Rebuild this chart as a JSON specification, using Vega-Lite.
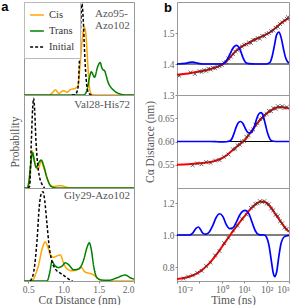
{
"$schema": "https://vega.github.io/schema/vega-lite/v6.json",
"padding": 0,
"autosize": {"type": "pad"},
"datasets": {
"left": [
{"panel":"A","series":"Cis","d":0.44,"p":0},{"panel":"A","series":"Cis","d":0.79,"p":0},{"panel":"A","series":"Cis","d":0.837,"p":0.02},{"panel":"A","series":"Cis","d":0.884,"p":0.054},{"panel":"A","series":"Cis","d":0.932,"p":0.018},{"panel":"A","series":"Cis","d":1.003,"p":0.047},{"panel":"A","series":"Cis","d":1.05,"p":0.03},{"panel":"A","series":"Cis","d":1.097,"p":0.058},{"panel":"A","series":"Cis","d":1.168,"p":0.072},{"panel":"A","series":"Cis","d":1.206,"p":0.1},{"panel":"A","series":"Cis","d":1.238,"p":0.35},{"panel":"A","series":"Cis","d":1.262,"p":0.57},{"panel":"A","series":"Cis","d":1.295,"p":0.73},{"panel":"A","series":"Cis","d":1.319,"p":0.64},{"panel":"A","series":"Cis","d":1.343,"p":0.35},{"panel":"A","series":"Cis","d":1.366,"p":0.1},{"panel":"A","series":"Cis","d":1.394,"p":0.01},{"panel":"A","series":"Cis","d":1.45,"p":0},{"panel":"A","series":"Cis","d":2.0,"p":0},
{"panel":"A","series":"Trans","d":0.44,"p":0},{"panel":"A","series":"Trans","d":1.286,"p":0},{"panel":"A","series":"Trans","d":1.333,"p":0.05},{"panel":"A","series":"Trans","d":1.366,"p":0.18},{"panel":"A","series":"Trans","d":1.394,"p":0.25},{"panel":"A","series":"Trans","d":1.418,"p":0.22},{"panel":"A","series":"Trans","d":1.44,"p":0.19},{"panel":"A","series":"Trans","d":1.483,"p":0.3},{"panel":"A","series":"Trans","d":1.52,"p":0.35},{"panel":"A","series":"Trans","d":1.545,"p":0.29},{"panel":"A","series":"Trans","d":1.565,"p":0.27},{"panel":"A","series":"Trans","d":1.583,"p":0.26},{"panel":"A","series":"Trans","d":1.631,"p":0.14},{"panel":"A","series":"Trans","d":1.712,"p":0.05},{"panel":"A","series":"Trans","d":1.806,"p":0.01},{"panel":"A","series":"Trans","d":1.877,"p":0},{"panel":"A","series":"Trans","d":2.0,"p":0},
{"panel":"A","series":"Initial","d":1.12,"p":0},{"panel":"A","series":"Initial","d":1.168,"p":0.005},{"panel":"A","series":"Initial","d":1.206,"p":0.08},{"panel":"A","series":"Initial","d":1.225,"p":0.35},{"panel":"A","series":"Initial","d":1.244,"p":0.75},{"panel":"A","series":"Initial","d":1.262,"p":0.98},{"panel":"A","series":"Initial","d":1.281,"p":0.8},{"panel":"A","series":"Initial","d":1.3,"p":0.45},{"panel":"A","series":"Initial","d":1.328,"p":0.12},{"panel":"A","series":"Initial","d":1.357,"p":0.02},{"panel":"A","series":"Initial","d":1.4,"p":0},
{"panel":"V","series":"Cis","d":0.44,"p":0},{"panel":"V","series":"Cis","d":0.497,"p":0},{"panel":"V","series":"Cis","d":0.53,"p":0.18},{"panel":"V","series":"Cis","d":0.553,"p":0.4},{"panel":"V","series":"Cis","d":0.578,"p":0.33},{"panel":"V","series":"Cis","d":0.61,"p":0.23},{"panel":"V","series":"Cis","d":0.639,"p":0.2},{"panel":"V","series":"Cis","d":0.663,"p":0.25},{"panel":"V","series":"Cis","d":0.685,"p":0.29},{"panel":"V","series":"Cis","d":0.719,"p":0.22},{"panel":"V","series":"Cis","d":0.766,"p":0.11},{"panel":"V","series":"Cis","d":0.813,"p":0.035},{"panel":"V","series":"Cis","d":0.861,"p":0.015},{"panel":"V","series":"Cis","d":0.9,"p":0.02},{"panel":"V","series":"Cis","d":0.94,"p":0.025},{"panel":"V","series":"Cis","d":0.979,"p":0.024},{"panel":"V","series":"Cis","d":1.05,"p":0.007},{"panel":"V","series":"Cis","d":1.12,"p":0},{"panel":"V","series":"Cis","d":2.0,"p":0},
{"panel":"V","series":"Trans","d":0.44,"p":0},{"panel":"V","series":"Trans","d":0.483,"p":0},{"panel":"V","series":"Trans","d":0.507,"p":0.06},{"panel":"V","series":"Trans","d":0.535,"p":0.255},{"panel":"V","series":"Trans","d":0.563,"p":0.38},{"panel":"V","series":"Trans","d":0.586,"p":0.29},{"panel":"V","series":"Trans","d":0.614,"p":0.22},{"panel":"V","series":"Trans","d":0.648,"p":0.27},{"panel":"V","series":"Trans","d":0.685,"p":0.3},{"panel":"V","series":"Trans","d":0.719,"p":0.24},{"panel":"V","series":"Trans","d":0.766,"p":0.11},{"panel":"V","series":"Trans","d":0.813,"p":0.025},{"panel":"V","series":"Trans","d":0.861,"p":0.005},{"panel":"V","series":"Trans","d":0.9,"p":0},{"panel":"V","series":"Trans","d":2.0,"p":0},
{"panel":"V","series":"Initial","d":0.5,"p":0},{"panel":"V","series":"Initial","d":0.52,"p":0.02},{"panel":"V","series":"Initial","d":0.544,"p":0.5},{"panel":"V","series":"Initial","d":0.563,"p":0.86},{"panel":"V","series":"Initial","d":0.577,"p":0.965},{"panel":"V","series":"Initial","d":0.592,"p":0.82},{"panel":"V","series":"Initial","d":0.61,"p":0.5},{"panel":"V","series":"Initial","d":0.634,"p":0.255},{"panel":"V","series":"Initial","d":0.657,"p":0.13},{"panel":"V","series":"Initial","d":0.695,"p":0.04},{"panel":"V","series":"Initial","d":0.733,"p":0},
{"panel":"G","series":"Cis","d":0.44,"p":0},{"panel":"G","series":"Cis","d":0.553,"p":0},{"panel":"G","series":"Cis","d":0.6,"p":0.065},{"panel":"G","series":"Cis","d":0.648,"p":0.175},{"panel":"G","series":"Cis","d":0.695,"p":0.34},{"panel":"G","series":"Cis","d":0.742,"p":0.42},{"panel":"G","series":"Cis","d":0.78,"p":0.36},{"panel":"G","series":"Cis","d":0.813,"p":0.285},{"panel":"G","series":"Cis","d":0.861,"p":0.255},{"panel":"G","series":"Cis","d":0.908,"p":0.27},{"panel":"G","series":"Cis","d":0.955,"p":0.28},{"panel":"G","series":"Cis","d":1.003,"p":0.19},{"panel":"G","series":"Cis","d":1.05,"p":0.13},{"panel":"G","series":"Cis","d":1.12,"p":0.11},{"panel":"G","series":"Cis","d":1.19,"p":0.12},{"panel":"G","series":"Cis","d":1.253,"p":0.145},{"panel":"G","series":"Cis","d":1.3,"p":0.1},{"panel":"G","series":"Cis","d":1.357,"p":0.085},{"panel":"G","series":"Cis","d":1.428,"p":0.065},{"panel":"G","series":"Cis","d":1.499,"p":0.02},{"panel":"G","series":"Cis","d":1.57,"p":0},{"panel":"G","series":"Cis","d":2.0,"p":0},
{"panel":"G","series":"Trans","d":0.44,"p":0},{"panel":"G","series":"Trans","d":0.766,"p":0},{"panel":"G","series":"Trans","d":0.804,"p":0.085},{"panel":"G","series":"Trans","d":0.837,"p":0.21},{"panel":"G","series":"Trans","d":0.875,"p":0.17},{"panel":"G","series":"Trans","d":0.922,"p":0.145},{"panel":"G","series":"Trans","d":0.979,"p":0.16},{"panel":"G","series":"Trans","d":1.026,"p":0.195},{"panel":"G","series":"Trans","d":1.074,"p":0.175},{"panel":"G","series":"Trans","d":1.145,"p":0.12},{"panel":"G","series":"Trans","d":1.216,"p":0.13},{"panel":"G","series":"Trans","d":1.287,"p":0.23},{"panel":"G","series":"Trans","d":1.333,"p":0.36},{"panel":"G","series":"Trans","d":1.366,"p":0.41},{"panel":"G","series":"Trans","d":1.394,"p":0.34},{"panel":"G","series":"Trans","d":1.428,"p":0.16},{"panel":"G","series":"Trans","d":1.475,"p":0.035},{"panel":"G","series":"Trans","d":1.546,"p":0.01},{"panel":"G","series":"Trans","d":1.641,"p":0.007},{"panel":"G","series":"Trans","d":1.759,"p":0.035},{"panel":"G","series":"Trans","d":1.877,"p":0.065},{"panel":"G","series":"Trans","d":1.947,"p":0.035},{"panel":"G","series":"Trans","d":2.0,"p":0.02},
{"panel":"G","series":"Initial","d":0.53,"p":0},{"panel":"G","series":"Initial","d":0.578,"p":0.1},{"panel":"G","series":"Initial","d":0.624,"p":0.43},{"panel":"G","series":"Initial","d":0.657,"p":0.8},{"panel":"G","series":"Initial","d":0.685,"p":0.94},{"panel":"G","series":"Initial","d":0.71,"p":0.96},{"panel":"G","series":"Initial","d":0.733,"p":0.87},{"panel":"G","series":"Initial","d":0.766,"p":0.61},{"panel":"G","series":"Initial","d":0.799,"p":0.36},{"panel":"G","series":"Initial","d":0.837,"p":0.21},{"panel":"G","series":"Initial","d":0.884,"p":0.13},{"panel":"G","series":"Initial","d":0.955,"p":0.085},{"panel":"G","series":"Initial","d":1.026,"p":0.047},{"panel":"G","series":"Initial","d":1.097,"p":0.01},{"panel":"G","series":"Initial","d":1.13,"p":0}
],
"right": [
{"panel":"R1","kind":"base","v":1.4},
{"panel":"R1","kind":"fit","t":0.01,"v":1.365},{"panel":"R1","kind":"fit","t":0.03162,"v":1.369},{"panel":"R1","kind":"fit","t":0.1,"v":1.376},{"panel":"R1","kind":"fit","t":0.3162,"v":1.384},{"panel":"R1","kind":"fit","t":0.631,"v":1.391},{"panel":"R1","kind":"fit","t":1,"v":1.397},{"panel":"R1","kind":"fit","t":1.259,"v":1.402},{"panel":"R1","kind":"fit","t":1.585,"v":1.408},{"panel":"R1","kind":"fit","t":1.995,"v":1.416},{"panel":"R1","kind":"fit","t":2.512,"v":1.424},{"panel":"R1","kind":"fit","t":3.162,"v":1.432},{"panel":"R1","kind":"fit","t":3.981,"v":1.44},{"panel":"R1","kind":"fit","t":5.012,"v":1.446},{"panel":"R1","kind":"fit","t":6.31,"v":1.452},{"panel":"R1","kind":"fit","t":7.943,"v":1.457},{"panel":"R1","kind":"fit","t":10,"v":1.461},{"panel":"R1","kind":"fit","t":15.85,"v":1.468},{"panel":"R1","kind":"fit","t":25.12,"v":1.476},{"panel":"R1","kind":"fit","t":39.81,"v":1.483},{"panel":"R1","kind":"fit","t":63.1,"v":1.489},{"panel":"R1","kind":"fit","t":100,"v":1.496},{"panel":"R1","kind":"fit","t":158.5,"v":1.505},{"panel":"R1","kind":"fit","t":251.2,"v":1.516},{"panel":"R1","kind":"fit","t":398.1,"v":1.529},{"panel":"R1","kind":"fit","t":631,"v":1.54},{"panel":"R1","kind":"fit","t":1000,"v":1.548},
{"panel":"R1","kind":"peak","t":0.01,"v":1.4},{"panel":"R1","kind":"peak","t":0.02512,"v":1.402},{"panel":"R1","kind":"peak","t":0.03548,"v":1.405},{"panel":"R1","kind":"peak","t":0.05012,"v":1.406},{"panel":"R1","kind":"peak","t":0.07079,"v":1.404},{"panel":"R1","kind":"peak","t":0.1,"v":1.401},{"panel":"R1","kind":"peak","t":0.1585,"v":1.4},{"panel":"R1","kind":"peak","t":1,"v":1.4},{"panel":"R1","kind":"peak","t":1.413,"v":1.406},{"panel":"R1","kind":"peak","t":1.995,"v":1.422},{"panel":"R1","kind":"peak","t":2.818,"v":1.445},{"panel":"R1","kind":"peak","t":3.548,"v":1.456},{"panel":"R1","kind":"peak","t":4.467,"v":1.46},{"panel":"R1","kind":"peak","t":5.623,"v":1.455},{"panel":"R1","kind":"peak","t":7.079,"v":1.44},{"panel":"R1","kind":"peak","t":8.913,"v":1.42},{"panel":"R1","kind":"peak","t":11.22,"v":1.406},{"panel":"R1","kind":"peak","t":15.85,"v":1.401},{"panel":"R1","kind":"peak","t":31.62,"v":1.4},{"panel":"R1","kind":"peak","t":100,"v":1.4},{"panel":"R1","kind":"peak","t":141.3,"v":1.405},{"panel":"R1","kind":"peak","t":177.8,"v":1.425},{"panel":"R1","kind":"peak","t":223.9,"v":1.46},{"panel":"R1","kind":"peak","t":281.8,"v":1.495},{"panel":"R1","kind":"peak","t":354.8,"v":1.503},{"panel":"R1","kind":"peak","t":446.7,"v":1.485},{"panel":"R1","kind":"peak","t":562.3,"v":1.45},{"panel":"R1","kind":"peak","t":707.9,"v":1.42},{"panel":"R1","kind":"peak","t":891.3,"v":1.406},{"panel":"R1","kind":"peak","t":1000,"v":1.404},
{"panel":"R1","kind":"raw","t":0.01259,"v":1.362},{"panel":"R1","kind":"raw","t":0.03981,"v":1.373},{"panel":"R1","kind":"raw","t":0.0631,"v":1.368},{"panel":"R1","kind":"raw","t":0.1,"v":1.377},{"panel":"R1","kind":"raw","t":0.1259,"v":1.374},{"panel":"R1","kind":"raw","t":0.1585,"v":1.38},{"panel":"R1","kind":"raw","t":0.1995,"v":1.378},{"panel":"R1","kind":"raw","t":0.2512,"v":1.385},{"panel":"R1","kind":"raw","t":0.3162,"v":1.382},{"panel":"R1","kind":"raw","t":0.3981,"v":1.388},{"panel":"R1","kind":"raw","t":0.5012,"v":1.386},{"panel":"R1","kind":"raw","t":0.631,"v":1.391},{"panel":"R1","kind":"raw","t":0.7943,"v":1.393},{"panel":"R1","kind":"raw","t":1,"v":1.397},{"panel":"R1","kind":"raw","t":1.259,"v":1.404},{"panel":"R1","kind":"raw","t":1.585,"v":1.406},{"panel":"R1","kind":"raw","t":1.995,"v":1.418},{"panel":"R1","kind":"raw","t":2.512,"v":1.424},{"panel":"R1","kind":"raw","t":3.162,"v":1.432},{"panel":"R1","kind":"raw","t":3.981,"v":1.44},{"panel":"R1","kind":"raw","t":5.012,"v":1.445},{"panel":"R1","kind":"raw","t":6.31,"v":1.452},{"panel":"R1","kind":"raw","t":7.943,"v":1.456},{"panel":"R1","kind":"raw","t":10,"v":1.462},{"panel":"R1","kind":"raw","t":12.59,"v":1.463},{"panel":"R1","kind":"raw","t":15.85,"v":1.47},{"panel":"R1","kind":"raw","t":19.95,"v":1.468},{"panel":"R1","kind":"raw","t":25.12,"v":1.478},{"panel":"R1","kind":"raw","t":31.62,"v":1.477},{"panel":"R1","kind":"raw","t":39.81,"v":1.484},{"panel":"R1","kind":"raw","t":50.12,"v":1.482},{"panel":"R1","kind":"raw","t":63.1,"v":1.491},{"panel":"R1","kind":"raw","t":79.43,"v":1.489},{"panel":"R1","kind":"raw","t":100,"v":1.497},{"panel":"R1","kind":"raw","t":125.9,"v":1.5},{"panel":"R1","kind":"raw","t":158.5,"v":1.506},{"panel":"R1","kind":"raw","t":199.5,"v":1.508},{"panel":"R1","kind":"raw","t":251.2,"v":1.517},{"panel":"R1","kind":"raw","t":316.2,"v":1.52},{"panel":"R1","kind":"raw","t":398.1,"v":1.529},{"panel":"R1","kind":"raw","t":501.2,"v":1.534},{"panel":"R1","kind":"raw","t":631,"v":1.541},{"panel":"R1","kind":"raw","t":794.3,"v":1.546},{"panel":"R1","kind":"raw","t":891.3,"v":1.551},
{"panel":"R2","kind":"base","v":0.6},
{"panel":"R2","kind":"fit","t":0.01,"v":0.55},{"panel":"R2","kind":"fit","t":0.03162,"v":0.551},{"panel":"R2","kind":"fit","t":0.1,"v":0.553},{"panel":"R2","kind":"fit","t":0.3162,"v":0.556},{"panel":"R2","kind":"fit","t":0.631,"v":0.56},{"panel":"R2","kind":"fit","t":1,"v":0.564},{"panel":"R2","kind":"fit","t":1.585,"v":0.57},{"panel":"R2","kind":"fit","t":2.512,"v":0.578},{"panel":"R2","kind":"fit","t":3.981,"v":0.586},{"panel":"R2","kind":"fit","t":6.31,"v":0.594},{"panel":"R2","kind":"fit","t":10,"v":0.602},{"panel":"R2","kind":"fit","t":15.85,"v":0.614},{"panel":"R2","kind":"fit","t":25.12,"v":0.627},{"panel":"R2","kind":"fit","t":39.81,"v":0.64},{"panel":"R2","kind":"fit","t":63.1,"v":0.651},{"panel":"R2","kind":"fit","t":100,"v":0.66},{"panel":"R2","kind":"fit","t":158.5,"v":0.667},{"panel":"R2","kind":"fit","t":251.2,"v":0.672},{"panel":"R2","kind":"fit","t":398.1,"v":0.674},{"panel":"R2","kind":"fit","t":631,"v":0.673},{"panel":"R2","kind":"fit","t":1000,"v":0.671},
{"panel":"R2","kind":"peak","t":0.01,"v":0.6},{"panel":"R2","kind":"peak","t":0.3162,"v":0.6},{"panel":"R2","kind":"peak","t":0.631,"v":0.5995},{"panel":"R2","kind":"peak","t":1,"v":0.599},{"panel":"R2","kind":"peak","t":1.585,"v":0.5995},{"panel":"R2","kind":"peak","t":2.239,"v":0.601},{"panel":"R2","kind":"peak","t":2.818,"v":0.606},{"panel":"R2","kind":"peak","t":3.548,"v":0.618},{"panel":"R2","kind":"peak","t":4.467,"v":0.632},{"panel":"R2","kind":"peak","t":5.623,"v":0.641},{"panel":"R2","kind":"peak","t":7.079,"v":0.643},{"panel":"R2","kind":"peak","t":8.913,"v":0.638},{"panel":"R2","kind":"peak","t":11.22,"v":0.628},{"panel":"R2","kind":"peak","t":14.13,"v":0.62},{"panel":"R2","kind":"peak","t":17.78,"v":0.618},{"panel":"R2","kind":"peak","t":22.39,"v":0.621},{"panel":"R2","kind":"peak","t":28.18,"v":0.632},{"panel":"R2","kind":"peak","t":35.48,"v":0.648},{"panel":"R2","kind":"peak","t":44.67,"v":0.659},{"panel":"R2","kind":"peak","t":56.23,"v":0.662},{"panel":"R2","kind":"peak","t":70.79,"v":0.655},{"panel":"R2","kind":"peak","t":89.13,"v":0.636},{"panel":"R2","kind":"peak","t":112.2,"v":0.617},{"panel":"R2","kind":"peak","t":141.3,"v":0.605},{"panel":"R2","kind":"peak","t":177.8,"v":0.601},{"panel":"R2","kind":"peak","t":251.2,"v":0.6},{"panel":"R2","kind":"peak","t":1000,"v":0.6},
{"panel":"R2","kind":"raw","t":0.05012,"v":0.549},{"panel":"R2","kind":"raw","t":0.07943,"v":0.553},{"panel":"R2","kind":"raw","t":0.1259,"v":0.551},{"panel":"R2","kind":"raw","t":0.1995,"v":0.556},{"panel":"R2","kind":"raw","t":0.3162,"v":0.554},{"panel":"R2","kind":"raw","t":0.5012,"v":0.559},{"panel":"R2","kind":"raw","t":0.7943,"v":0.56},{"panel":"R2","kind":"raw","t":1.259,"v":0.567},{"panel":"R2","kind":"raw","t":1.995,"v":0.572},{"panel":"R2","kind":"raw","t":3.162,"v":0.583},{"panel":"R2","kind":"raw","t":3.981,"v":0.584},{"panel":"R2","kind":"raw","t":5.012,"v":0.592},{"panel":"R2","kind":"raw","t":6.31,"v":0.593},{"panel":"R2","kind":"raw","t":7.943,"v":0.6},{"panel":"R2","kind":"raw","t":10,"v":0.601},{"panel":"R2","kind":"raw","t":12.59,"v":0.61},{"panel":"R2","kind":"raw","t":15.85,"v":0.613},{"panel":"R2","kind":"raw","t":19.95,"v":0.622},{"panel":"R2","kind":"raw","t":25.12,"v":0.626},{"panel":"R2","kind":"raw","t":31.62,"v":0.636},{"panel":"R2","kind":"raw","t":39.81,"v":0.639},{"panel":"R2","kind":"raw","t":50.12,"v":0.648},{"panel":"R2","kind":"raw","t":63.1,"v":0.65},{"panel":"R2","kind":"raw","t":79.43,"v":0.657},{"panel":"R2","kind":"raw","t":100,"v":0.659},{"panel":"R2","kind":"raw","t":125.9,"v":0.666},{"panel":"R2","kind":"raw","t":158.5,"v":0.665},{"panel":"R2","kind":"raw","t":199.5,"v":0.672},{"panel":"R2","kind":"raw","t":251.2,"v":0.67},{"panel":"R2","kind":"raw","t":316.2,"v":0.676},{"panel":"R2","kind":"raw","t":398.1,"v":0.673},{"panel":"R2","kind":"raw","t":501.2,"v":0.676},{"panel":"R2","kind":"raw","t":631,"v":0.672},{"panel":"R2","kind":"raw","t":794.3,"v":0.674},
{"panel":"R3","kind":"base","v":1.0},
{"panel":"R3","kind":"fit","t":0.01,"v":0.725},{"panel":"R3","kind":"fit","t":0.01995,"v":0.731},{"panel":"R3","kind":"fit","t":0.03981,"v":0.742},{"panel":"R3","kind":"fit","t":0.07943,"v":0.76},{"panel":"R3","kind":"fit","t":0.1585,"v":0.79},{"panel":"R3","kind":"fit","t":0.3162,"v":0.832},{"panel":"R3","kind":"fit","t":0.631,"v":0.885},{"panel":"R3","kind":"fit","t":1.259,"v":0.945},{"panel":"R3","kind":"fit","t":2.512,"v":1.005},{"panel":"R3","kind":"fit","t":5.012,"v":1.062},{"panel":"R3","kind":"fit","t":10,"v":1.115},{"panel":"R3","kind":"fit","t":19.95,"v":1.165},{"panel":"R3","kind":"fit","t":35.48,"v":1.196},{"panel":"R3","kind":"fit","t":56.23,"v":1.21},{"panel":"R3","kind":"fit","t":89.13,"v":1.205},{"panel":"R3","kind":"fit","t":141.3,"v":1.18},{"panel":"R3","kind":"fit","t":251.2,"v":1.13},{"panel":"R3","kind":"fit","t":398.1,"v":1.09},{"panel":"R3","kind":"fit","t":631,"v":1.05},{"panel":"R3","kind":"fit","t":1000,"v":1.02},
{"panel":"R3","kind":"peak","t":0.01,"v":1.0},{"panel":"R3","kind":"peak","t":0.03548,"v":1.0},{"panel":"R3","kind":"peak","t":0.05012,"v":1.012},{"panel":"R3","kind":"peak","t":0.07079,"v":1.042},{"panel":"R3","kind":"peak","t":0.08913,"v":1.05},{"panel":"R3","kind":"peak","t":0.1122,"v":1.035},{"panel":"R3","kind":"peak","t":0.1413,"v":1.012},{"panel":"R3","kind":"peak","t":0.1995,"v":1.005},{"panel":"R3","kind":"peak","t":0.2818,"v":1.02},{"panel":"R3","kind":"peak","t":0.3981,"v":1.06},{"panel":"R3","kind":"peak","t":0.5623,"v":1.11},{"panel":"R3","kind":"peak","t":0.7943,"v":1.133},{"panel":"R3","kind":"peak","t":1.122,"v":1.115},{"panel":"R3","kind":"peak","t":1.585,"v":1.065},{"panel":"R3","kind":"peak","t":2.239,"v":1.04},{"panel":"R3","kind":"peak","t":3.162,"v":1.045},{"panel":"R3","kind":"peak","t":4.467,"v":1.08},{"panel":"R3","kind":"peak","t":6.31,"v":1.125},{"panel":"R3","kind":"peak","t":8.913,"v":1.15},{"panel":"R3","kind":"peak","t":11.22,"v":1.154},{"panel":"R3","kind":"peak","t":15.85,"v":1.135},{"panel":"R3","kind":"peak","t":22.39,"v":1.08},{"panel":"R3","kind":"peak","t":31.62,"v":1.025},{"panel":"R3","kind":"peak","t":44.67,"v":1.003},{"panel":"R3","kind":"peak","t":79.43,"v":1.0},{"panel":"R3","kind":"peak","t":100,"v":0.985},{"panel":"R3","kind":"peak","t":125.9,"v":0.94},{"panel":"R3","kind":"peak","t":158.5,"v":0.85},{"panel":"R3","kind":"peak","t":199.5,"v":0.76},{"panel":"R3","kind":"peak","t":229.1,"v":0.74},{"panel":"R3","kind":"peak","t":281.8,"v":0.77},{"panel":"R3","kind":"peak","t":354.8,"v":0.87},{"panel":"R3","kind":"peak","t":446.7,"v":0.95},{"panel":"R3","kind":"peak","t":631,"v":0.99},{"panel":"R3","kind":"peak","t":1000,"v":0.998},
{"panel":"R3","kind":"raw","t":0.01995,"v":0.728},{"panel":"R3","kind":"raw","t":0.03162,"v":0.74},{"panel":"R3","kind":"raw","t":0.05012,"v":0.748},{"panel":"R3","kind":"raw","t":0.07943,"v":0.764},{"panel":"R3","kind":"raw","t":0.1259,"v":0.776},{"panel":"R3","kind":"raw","t":0.1995,"v":0.806},{"panel":"R3","kind":"raw","t":0.3162,"v":0.828},{"panel":"R3","kind":"raw","t":0.5012,"v":0.872},{"panel":"R3","kind":"raw","t":0.7943,"v":0.9},{"panel":"R3","kind":"raw","t":1.259,"v":0.95},{"panel":"R3","kind":"raw","t":1.995,"v":0.982},{"panel":"R3","kind":"raw","t":3.162,"v":1.028},{"panel":"R3","kind":"raw","t":5.012,"v":1.058},{"panel":"R3","kind":"raw","t":7.943,"v":1.102},{"panel":"R3","kind":"raw","t":12.59,"v":1.128},{"panel":"R3","kind":"raw","t":19.95,"v":1.17},{"panel":"R3","kind":"raw","t":25.12,"v":1.178},{"panel":"R3","kind":"raw","t":31.62,"v":1.195},{"panel":"R3","kind":"raw","t":39.81,"v":1.198},{"panel":"R3","kind":"raw","t":50.12,"v":1.212},{"panel":"R3","kind":"raw","t":63.1,"v":1.206},{"panel":"R3","kind":"raw","t":79.43,"v":1.212},{"panel":"R3","kind":"raw","t":100,"v":1.196},{"panel":"R3","kind":"raw","t":125.9,"v":1.192},{"panel":"R3","kind":"raw","t":158.5,"v":1.166},{"panel":"R3","kind":"raw","t":199.5,"v":1.155},{"panel":"R3","kind":"raw","t":251.2,"v":1.126},{"panel":"R3","kind":"raw","t":316.2,"v":1.118},{"panel":"R3","kind":"raw","t":398.1,"v":1.086},{"panel":"R3","kind":"raw","t":501.2,"v":1.074},{"panel":"R3","kind":"raw","t":631,"v":1.046},{"panel":"R3","kind":"raw","t":794.3,"v":1.038}
],
"notes": [
{"panel":"A","label":"Azo95-\nAzo102","d":1.447,"p":0.84},
{"panel":"V","label":"Val28-His72","d":1.943,"p":0.865},
{"panel":"G","label":"Gly29-Azo102","d":1.943,"p":0.883},
{"panel":"a","label":"a","d":0.17,"p":0.904},
{"panel":"b","label":"b","t":0.00396,"v":1.568}
]
},
"concat": [
{
"width": 110, "height": 93,
"layer": [
{"data":{"name":"left"},"transform":[{"filter":"datum.panel=='A'"}],
"mark":{"type":"line","interpolate":"monotone","strokeWidth":1.5,"clip":true},
"encoding":{
"x":{"field":"d","type":"quantitative","scale":{"domain":[0.44,2.0],"nice":false,"zero":false},"axis":null},
"y":{"field":"p","type":"quantitative","scale":{"domain":[0,1],"nice":false},"axis":null},
"color":{"field":"series","type":"nominal","scale":{"domain":["Cis","Trans","Initial"],"range":["#ffa500","#008000","#000000"]},"legend":{"orient":"top-left","offset":0,"title":null,"symbolType":"stroke","symbolSize":190,"symbolStrokeWidth":1.5,"labelFont":"Liberation Serif","labelFontSize":10.5,"labelColor":"#333","strokeColor":"#bbbbbb","fillColor":"white","padding":5,"rowPadding":2,"labelOffset":4}},
"strokeDash":{"field":"series","type":"nominal","scale":{"domain":["Cis","Trans","Initial"],"range":[[1,0],[1,0],[3,2]]},"legend":{"orient":"top-left","offset":0,"title":null,"symbolType":"stroke","symbolSize":190,"symbolStrokeWidth":1.5,"labelFont":"Liberation Serif","labelFontSize":10.5,"labelColor":"#333","strokeColor":"#bbbbbb","fillColor":"white","padding":5,"rowPadding":2,"labelOffset":4}}
}},
{"data":{"name":"notes"},"transform":[{"filter":"datum.panel=='A'"}],
"mark":{"type":"text","align":"left","baseline":"alphabetic","fontSize":11,"color":"#555","lineBreak":"\n","lineHeight":12.5},
"encoding":{"x":{"field":"d","type":"quantitative","axis":null},"y":{"field":"p","type":"quantitative","axis":null},"text":{"field":"label"}}},
{"data":{"name":"notes"},"transform":[{"filter":"datum.panel=='a'"}],
"mark":{"type":"text","align":"center","baseline":"alphabetic","font":"Liberation Sans","fontWeight":"bold","fontSize":13,"color":"#000"},
"encoding":{"x":{"field":"d","type":"quantitative","axis":null},"y":{"field":"p","type":"quantitative","axis":null},"text":{"field":"label"}}}
]
},
{
"width": 112, "height": 93,
"encoding": {"y": {"field":"v","type":"quantitative","scale":{"domain":[1.3,1.6],"nice":false,"zero":false},"axis":{"values":[1.3,1.4,1.5],"format":".1f","title":null}}},
"layer": [
{"data":{"name":"right"},"transform":[{"filter":"datum.panel=='R1' && datum.kind=='base'"}],"mark":{"type":"rule","color":"#000","strokeWidth":1.2},"encoding":{}},
{"data":{"name":"right"},"transform":[{"filter":"datum.panel=='R1' && datum.kind=='fit'"}],"mark":{"type":"line","color":"#ff0000","strokeWidth":2,"interpolate":"monotone","clip":true},"encoding":{"x":{"field":"t","type":"quantitative","scale":{"type":"log","domain":[0.01,1000],"nice":false},"axis":null}}},
{"data":{"name":"right"},"transform":[{"filter":"datum.panel=='R1' && datum.kind=='raw'"}],"mark":{"type":"point","shape":"M-1,-1L1,1M1,-1L-1,1","filled":false,"size":14,"strokeWidth":0.8,"color":"#333","opacity":0.9},"encoding":{"x":{"field":"t","type":"quantitative","axis":null}}},
{"data":{"name":"right"},"transform":[{"filter":"datum.panel=='R1' && datum.kind=='peak'"}],"mark":{"type":"line","color":"#0000ff","strokeWidth":1.7,"interpolate":"monotone","clip":true},"encoding":{"x":{"field":"t","type":"quantitative","axis":null}}},
{"data":{"name":"notes"},"transform":[{"filter":"datum.panel=='b'"}],"mark":{"type":"text","align":"center","baseline":"alphabetic","font":"Liberation Sans","fontWeight":"bold","fontSize":13,"color":"#000"},"encoding":{"x":{"field":"t","type":"quantitative","axis":null},"text":{"field":"label"}}}
]
},
{
"width": 110, "height": 93,
"layer": [
{"data":{"name":"left"},"transform":[{"filter":"datum.panel=='V'"}],
"mark":{"type":"line","interpolate":"monotone","strokeWidth":1.5,"clip":true},
"encoding":{
"x":{"field":"d","type":"quantitative","scale":{"domain":[0.44,2.0],"nice":false,"zero":false},"axis":null},
"y":{"field":"p","type":"quantitative","scale":{"domain":[0,1],"nice":false},"axis":{"title":"Probability","labels":false,"ticks":false,"titlePadding":4}},
"color":{"field":"series","type":"nominal","scale":{"domain":["Cis","Trans","Initial"],"range":["#ffa500","#008000","#000000"]},"legend":null},
"strokeDash":{"field":"series","type":"nominal","scale":{"domain":["Cis","Trans","Initial"],"range":[[1,0],[1,0],[3,2]]},"legend":null}
}},
{"data":{"name":"notes"},"transform":[{"filter":"datum.panel=='V'"}],
"mark":{"type":"text","align":"right","baseline":"alphabetic","fontSize":11,"color":"#555"},
"encoding":{"x":{"field":"d","type":"quantitative","axis":null},"y":{"field":"p","type":"quantitative","axis":{"title":"Probability","labels":false,"ticks":false,"titlePadding":4}},"text":{"field":"label"}}}
]
},
{
"width": 112, "height": 93,
"encoding": {"y": {"field":"v","type":"quantitative","scale":{"domain":[0.5,0.7],"nice":false,"zero":false},"axis":{"values":[0.55,0.6,0.65],"format":".2f","title":"Cα Distance (nm)","titlePadding":2}}},
"layer": [
{"data":{"name":"right"},"transform":[{"filter":"datum.panel=='R2' && datum.kind=='base'"}],"mark":{"type":"rule","color":"#000","strokeWidth":1.2},"encoding":{}},
{"data":{"name":"right"},"transform":[{"filter":"datum.panel=='R2' && datum.kind=='fit'"}],"mark":{"type":"line","color":"#ff0000","strokeWidth":2,"interpolate":"monotone","clip":true},"encoding":{"x":{"field":"t","type":"quantitative","scale":{"type":"log","domain":[0.01,1000],"nice":false},"axis":null}}},
{"data":{"name":"right"},"transform":[{"filter":"datum.panel=='R2' && datum.kind=='raw'"}],"mark":{"type":"point","shape":"M-1,-1L1,1M1,-1L-1,1","filled":false,"size":14,"strokeWidth":0.8,"color":"#333","opacity":0.9},"encoding":{"x":{"field":"t","type":"quantitative","axis":null}}},
{"data":{"name":"right"},"transform":[{"filter":"datum.panel=='R2' && datum.kind=='peak'"}],"mark":{"type":"line","color":"#0000ff","strokeWidth":1.7,"interpolate":"monotone","clip":true},"encoding":{"x":{"field":"t","type":"quantitative","axis":null}}}
]
},
{
"width": 110, "height": 93,
"layer": [
{"data":{"name":"left"},"transform":[{"filter":"datum.panel=='G'"}],
"mark":{"type":"line","interpolate":"monotone","strokeWidth":1.5,"clip":true},
"encoding":{
"x":{"field":"d","type":"quantitative","scale":{"domain":[0.44,2.0],"nice":false,"zero":false},"axis":{"values":[0.5,1.0,1.5,2.0],"format":".1f","title":"Cα Distance (nm)","titlePadding":1}},
"y":{"field":"p","type":"quantitative","scale":{"domain":[0,1],"nice":false},"axis":null},
"color":{"field":"series","type":"nominal","scale":{"domain":["Cis","Trans","Initial"],"range":["#ffa500","#008000","#000000"]},"legend":null},
"strokeDash":{"field":"series","type":"nominal","scale":{"domain":["Cis","Trans","Initial"],"range":[[1,0],[1,0],[3,2]]},"legend":null}
}},
{"data":{"name":"notes"},"transform":[{"filter":"datum.panel=='G'"}],
"mark":{"type":"text","align":"right","baseline":"alphabetic","fontSize":11,"color":"#555"},
"encoding":{"x":{"field":"d","type":"quantitative","axis":{"values":[0.5,1.0,1.5,2.0],"format":".1f","title":"Cα Distance (nm)","titlePadding":1}},"y":{"field":"p","type":"quantitative","axis":null},"text":{"field":"label"}}}
]
},
{
"width": 112, "height": 93,
"encoding": {"y": {"field":"v","type":"quantitative","scale":{"domain":[0.7125,1.294],"nice":false,"zero":false},"axis":{"values":[0.8,1.0,1.2],"format":".1f","title":null}}},
"layer": [
{"data":{"name":"right"},"transform":[{"filter":"datum.panel=='R3' && datum.kind=='base'"}],"mark":{"type":"rule","color":"#000","strokeWidth":1.2},"encoding":{}},
{"data":{"name":"right"},"transform":[{"filter":"datum.panel=='R3' && datum.kind=='fit'"}],"mark":{"type":"line","color":"#ff0000","strokeWidth":2,"interpolate":"monotone","clip":true},"encoding":{"x":{"field":"t","type":"quantitative","scale":{"type":"log","domain":[0.01,1000],"nice":false},"axis":{"values":[0.01,0.1,1,10,100,1000],"title":"Time (ns)","titlePadding":1,"labelExpr":"round(log(datum.value)/LN10) == -2 ? '10⁻²' : round(log(datum.value)/LN10) == -1 ? '10⁻¹' : round(log(datum.value)/LN10) == 0 ? '10⁰' : round(log(datum.value)/LN10) == 1 ? '10¹' : round(log(datum.value)/LN10) == 2 ? '10²' : '10³'"}}}},
{"data":{"name":"right"},"transform":[{"filter":"datum.panel=='R3' && datum.kind=='raw'"}],"mark":{"type":"point","shape":"M-1,-1L1,1M1,-1L-1,1","filled":false,"size":14,"strokeWidth":0.8,"color":"#333","opacity":0.9},"encoding":{"x":{"field":"t","type":"quantitative"}}},
{"data":{"name":"right"},"transform":[{"filter":"datum.panel=='R3' && datum.kind=='peak'"}],"mark":{"type":"line","color":"#0000ff","strokeWidth":1.7,"interpolate":"monotone","clip":true},"encoding":{"x":{"field":"t","type":"quantitative"}}}
]
}
],
"columns": 2,
"spacing": {"row": 0, "column": 43},
"bounds": "flush",
"resolve": {"scale": {"color": "independent", "strokeDash": "independent"}, "legend": {"color": "independent", "strokeDash": "independent"}},
"config": {
"view": {"stroke": "#999999", "strokeWidth": 1},
"font": "Liberation Serif",
"axis": {"labelFont": "Liberation Serif", "titleFont": "Liberation Serif", "labelFontSize": 9.5, "titleFontSize": 11.5, "titleFontWeight": "normal", "labelColor": "#666", "titleColor": "#555", "tickColor": "#888", "tickSize": 2, "domain": false, "grid": false, "labelPadding": 1},
"text": {"font": "Liberation Serif"}
}
}
